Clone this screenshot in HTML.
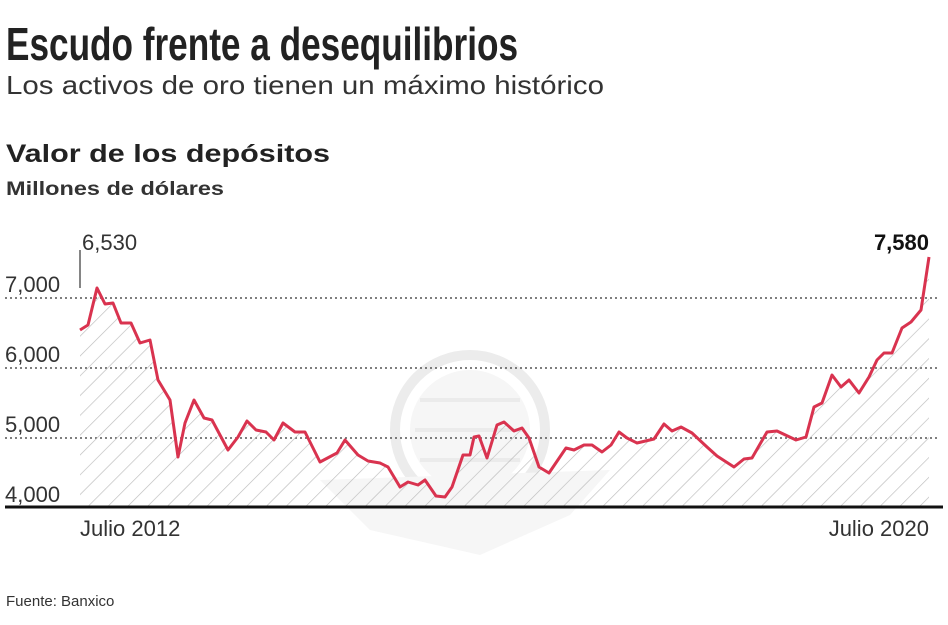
<!DOCTYPE html>
<html><head><meta charset="utf-8"><style>
body{margin:0;width:948px;height:620px;background:#fff;overflow:hidden;font-family:"Liberation Sans",sans-serif;color:#222}
</style></head><body>
<svg width="948" height="620" viewBox="0 0 948 620" xmlns="http://www.w3.org/2000/svg">
<defs>
<pattern id="h" width="14" height="14" patternUnits="userSpaceOnUse" patternTransform="rotate(45)">
<line x1="0" y1="0" x2="0" y2="14" stroke="#bbb" stroke-width="1.3"/>
</pattern>
</defs>
<text x="6" y="60" font-family="'Liberation Sans Narrow','Liberation Sans',sans-serif" font-size="46" font-weight="bold" fill="#222" textLength="512" lengthAdjust="spacingAndGlyphs">Escudo frente a desequilibrios</text>
<text x="6" y="94" font-size="26" fill="#333" textLength="598" lengthAdjust="spacingAndGlyphs">Los activos de oro tienen un máximo histórico</text>
<text x="6" y="162" font-size="25" font-weight="bold" fill="#222" textLength="324" lengthAdjust="spacingAndGlyphs">Valor de los depósitos</text>
<text x="6" y="195" font-size="19" font-weight="bold" fill="#333" textLength="218" lengthAdjust="spacingAndGlyphs">Millones de dólares</text>
<circle cx="470" cy="430" r="75" fill="none" stroke="#ececec" stroke-width="10"/>
<circle cx="470" cy="430" r="60" fill="#f6f6f6"/>
<g stroke="#ebebeb" stroke-width="4">
<line x1="420" y1="400" x2="520" y2="400"/><line x1="415" y1="430" x2="525" y2="430"/><line x1="420" y1="460" x2="520" y2="460"/>
</g>
<path d="M320,480 L610,470 L570,515 L480,555 L370,530 Z" fill="#f6f6f6"/>
<g stroke="#555" stroke-width="1.5" stroke-dasharray="2,3">
<line x1="5" y1="298" x2="940" y2="298"/>
<line x1="5" y1="368" x2="940" y2="368"/>
<line x1="5" y1="438" x2="940" y2="438"/>
</g>
<g font-size="22" fill="#333">
<text x="5" y="292">7,000</text>
<text x="5" y="362">6,000</text>
<text x="5" y="432">5,000</text>
<text x="5" y="502">4,000</text>
<text x="82" y="250">6,530</text>
<text x="80" y="536">Julio 2012</text>
<text x="929" y="536" text-anchor="end">Julio 2020</text>
<text x="929" y="250" text-anchor="end" font-weight="bold" fill="#111">7,580</text>
</g>
<line x1="80" y1="250" x2="80" y2="288" stroke="#333" stroke-width="1.2"/>
<polygon fill="url(#h)" points="80,506 80,330 88,325 97,288 105,304 113,303 121,323 131,323 140,343 150,340 158,380 170,400 178,457 185,423 194,400 204,418 212,420 228,450 238,437 247,421 256,430 266,432 274,440 283,423 295,432 305,432 320,462 337,453 345,440 358,455 368,461 380,463 388,467 400,487 408,482 418,485 425,480 436,496 445,497 452,487 463,455 470,455 474,437 479,436 487,458 497,425 504,422 514,431 522,428 529,438 539,467 549,473 566,448 574,450 584,445 592,445 602,452 611,445 619,432 627,438 637,443 654,439 664,424 672,431 681,427 692,433 707,447 717,456 734,467 744,459 752,458 767,432 777,431 796,440 806,437 814,407 822,403 832,375 841,387 849,380 859,393 869,377 877,360 884,353 892,353 902,328 911,322 921,310 929,257 929,506"/>
<polyline fill="none" stroke="#d9334f" stroke-width="3" stroke-linejoin="round" points="80,330 88,325 97,288 105,304 113,303 121,323 131,323 140,343 150,340 158,380 170,400 178,457 185,423 194,400 204,418 212,420 228,450 238,437 247,421 256,430 266,432 274,440 283,423 295,432 305,432 320,462 337,453 345,440 358,455 368,461 380,463 388,467 400,487 408,482 418,485 425,480 436,496 445,497 452,487 463,455 470,455 474,437 479,436 487,458 497,425 504,422 514,431 522,428 529,438 539,467 549,473 566,448 574,450 584,445 592,445 602,452 611,445 619,432 627,438 637,443 654,439 664,424 672,431 681,427 692,433 707,447 717,456 734,467 744,459 752,458 767,432 777,431 796,440 806,437 814,407 822,403 832,375 841,387 849,380 859,393 869,377 877,360 884,353 892,353 902,328 911,322 921,310 929,257"/>
<line x1="5" y1="507" x2="943" y2="507" stroke="#111" stroke-width="3"/>
<text x="6" y="606" font-size="15" fill="#333">Fuente: Banxico</text>
</svg>
</body></html>
